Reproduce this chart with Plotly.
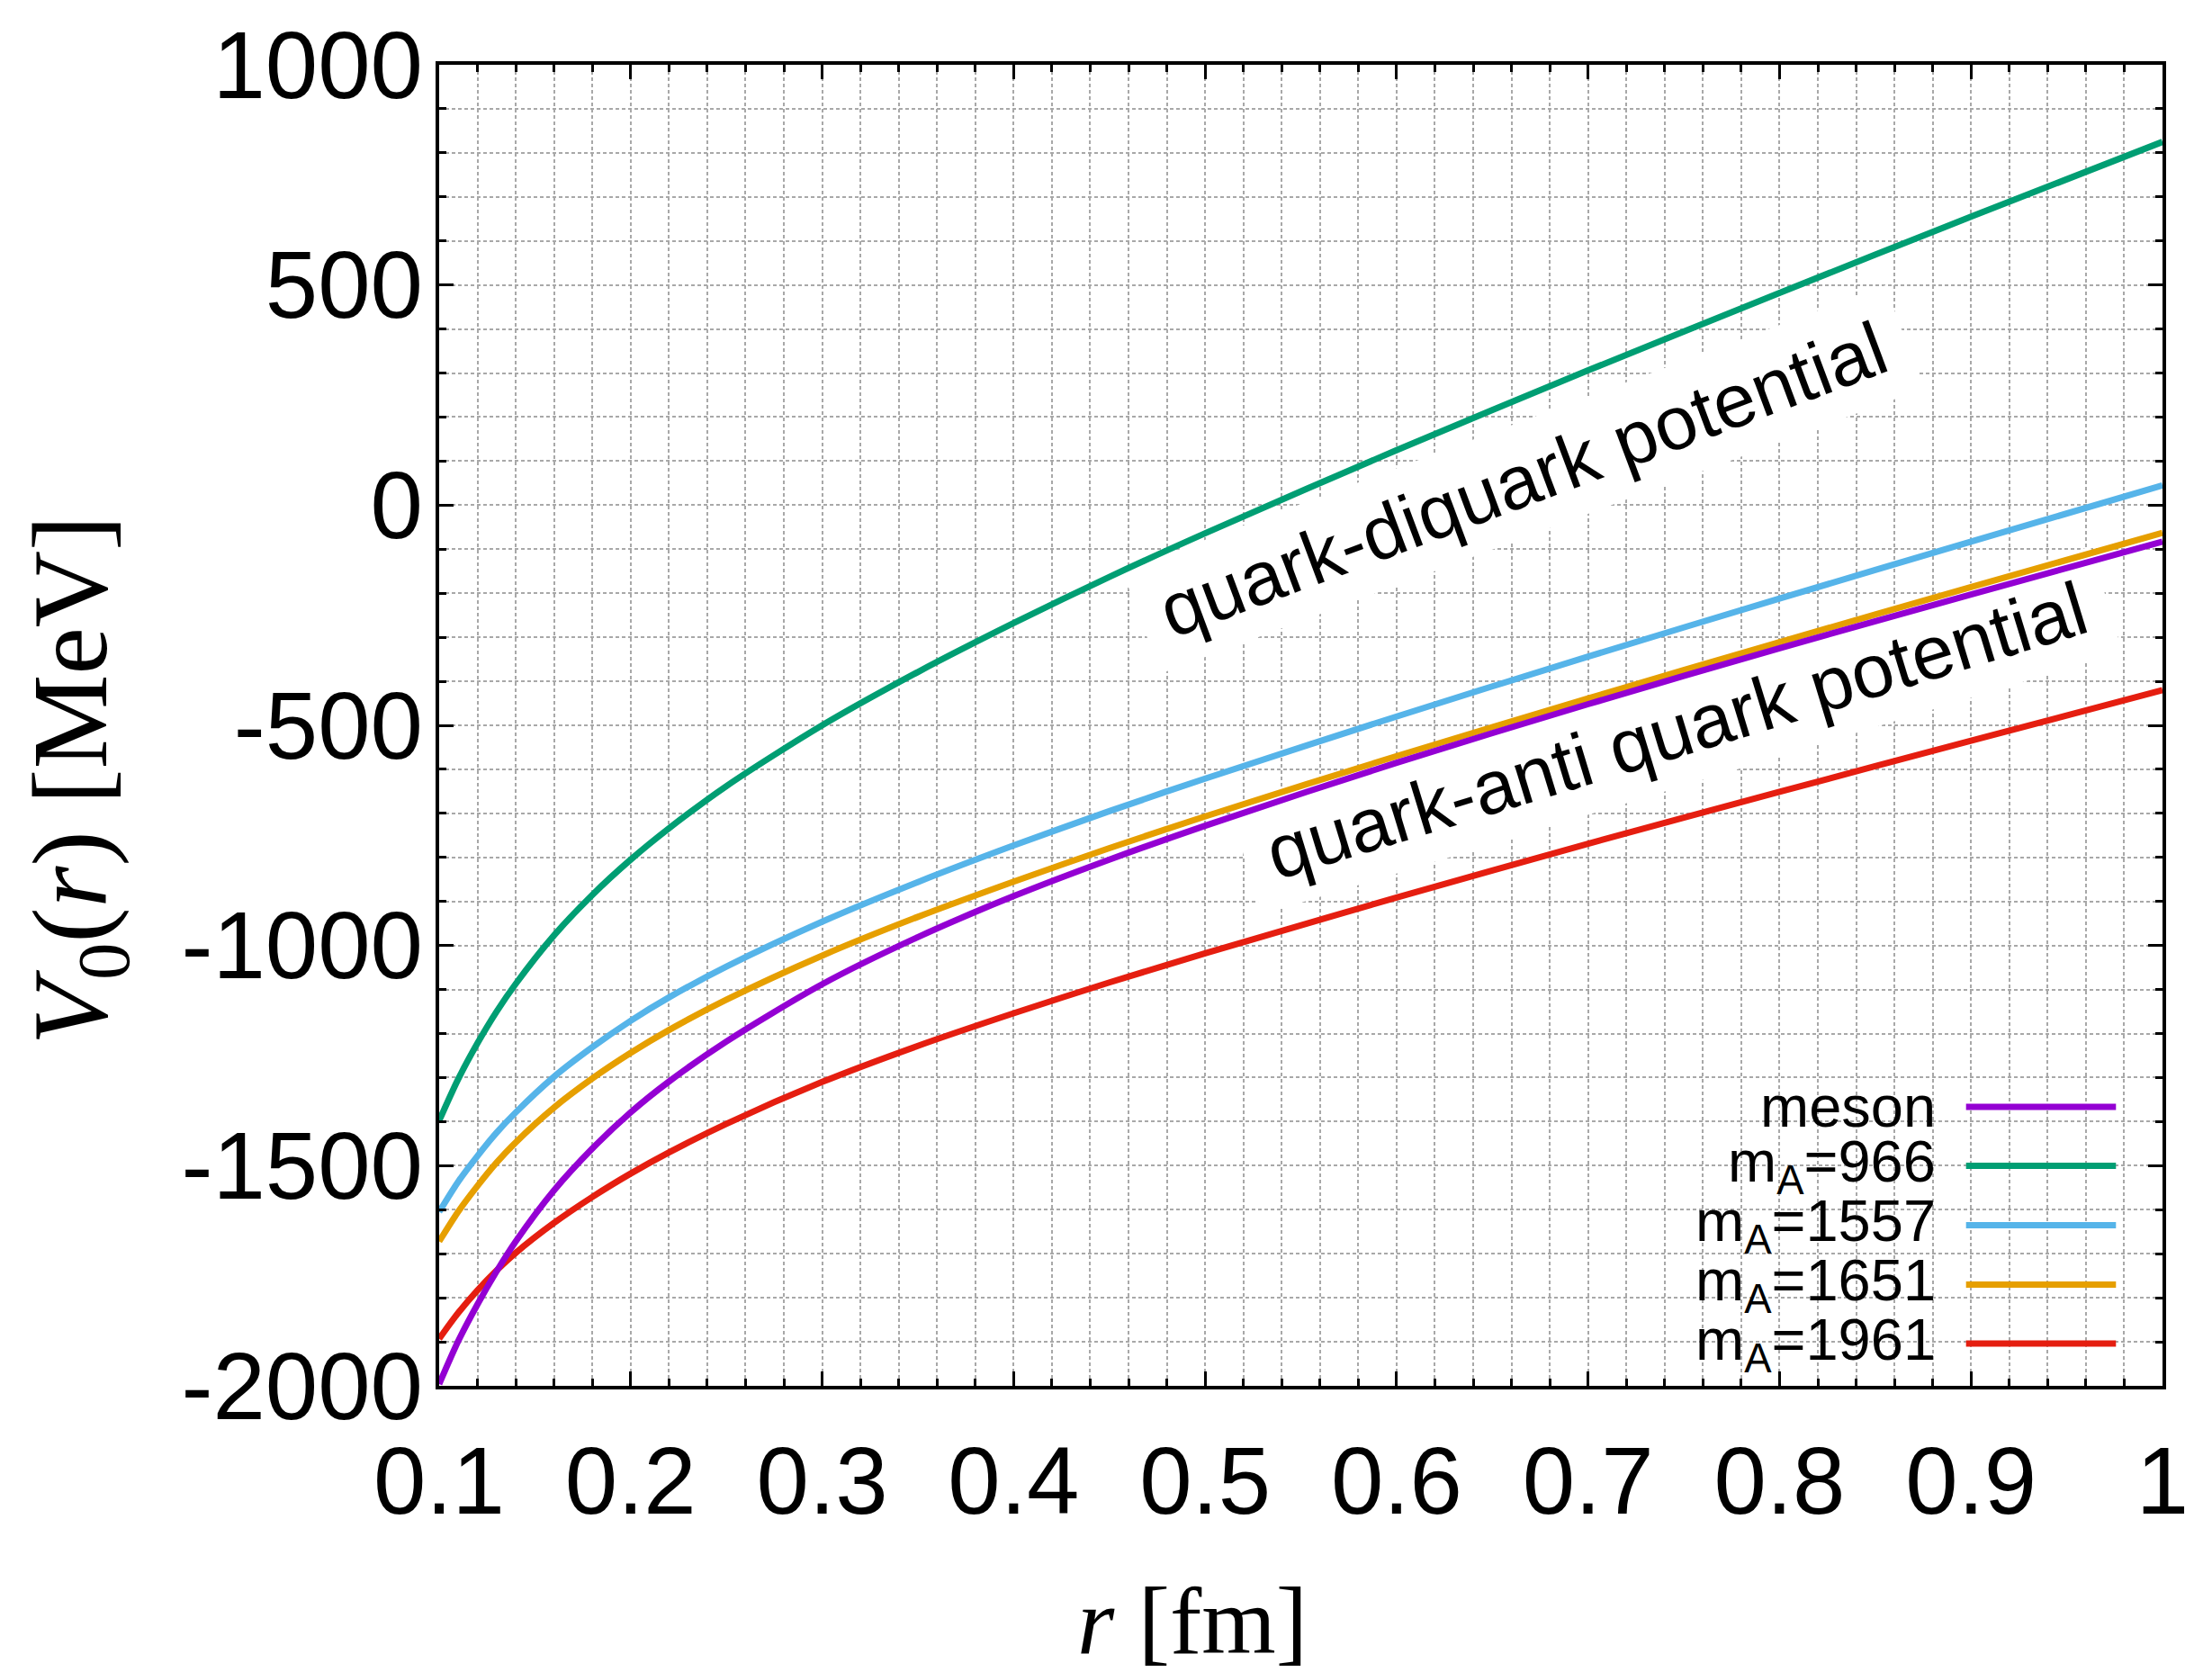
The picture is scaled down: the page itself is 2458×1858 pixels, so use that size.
import math
import plotly.graph_objects as go

# Separation r [fm]
r_fm = [0.10, 0.11, 0.12, 0.13, 0.14, 0.16, 0.18, 0.20, 0.22, 0.25,
        0.30, 0.35, 0.40, 0.45, 0.50, 0.60, 0.70, 0.80, 0.90, 1.00]

# V0(r) [MeV] for each case
v_meson = [-1996, -1898, -1815, -1740, -1672, -1556, -1461, -1379, -1309, -1218,
           -1088, -981, -888, -805, -728, -585, -452, -325, -203, -83]
v_m966 = [-1398, -1303, -1222, -1150, -1087, -977, -885, -805, -734, -638,
          -500, -379, -268, -163, -64, 125, 306, 482, 655, 825]
v_m1557 = [-1605, -1536, -1478, -1425, -1379, -1298, -1231, -1171, -1118, -1048,
           -946, -856, -773, -695, -621, -480, -344, -212, -83, 45]
v_m1651 = [-1672, -1604, -1546, -1493, -1447, -1368, -1302, -1244, -1192, -1123,
           -1023, -935, -855, -779, -707, -570, -439, -311, -186, -63]
v_m1961 = [-1893, -1834, -1783, -1738, -1698, -1630, -1571, -1518, -1470, -1405,
           -1310, -1228, -1154, -1084, -1018, -891, -769, -651, -535, -420]

series_names = ["meson", "m<sub>A</sub>=966", "m<sub>A</sub>=1557",
                "m<sub>A</sub>=1651", "m<sub>A</sub>=1961"]
series_values = [v_meson, v_m966, v_m1557, v_m1651, v_m1961]
series_colors = ["#9400d3", "#009e73", "#56b4e9", "#e69f00", "#e51e10"]

x_tick_vals = [0.1, 0.2, 0.3, 0.4, 0.5, 0.6, 0.7, 0.8, 0.9, 1.0]
x_tick_text = ["0.1", "0.2", "0.3", "0.4", "0.5", "0.6", "0.7", "0.8", "0.9", "1"]
y_tick_vals = [-2000, -1500, -1000, -500, 0, 500, 1000]
y_tick_text = ["-2000", "-1500", "-1000", "-500", "0", "500", "1000"]

# Curve labels: text, anchor (r, V), baseline angle, white box size in px
label_texts = ["quark-diquark potential", "quark-anti quark potential"]
label_r = [0.666, 0.746]
label_v = [58, -512]
label_angle = [20.5, 17.0]
label_box = [(905, 122), (1000, 122)]

SANS = "Liberation Sans, Arial, Helvetica, sans-serif"
SERIF = "Liberation Serif, Times New Roman, serif"
GRID = "#a8a8a8"

fig = go.Figure()

# Draw the curves in reverse so the meson curve sits on top
for name, vals, col in reversed(list(zip(series_names, series_values, series_colors))):
    fig.add_trace(go.Scatter(
        x=r_fm, y=vals, mode="lines", name=name,
        line=dict(color=col, width=7, shape="spline", smoothing=0.8),
        showlegend=False, hoverinfo="skip",
    ))

axis_common = dict(
    ticks="inside", tickwidth=3, tickcolor="black",
    showline=True, linewidth=4, linecolor="black", mirror="allticks",
    showgrid=True, gridcolor=GRID, gridwidth=2, griddash="4px,3px",
    zeroline=False, tickfont=dict(family=SANS, size=105, color="black"),
)

fig.update_xaxes(
    range=[0.1, 1.0], tickmode="array", tickvals=x_tick_vals, ticktext=x_tick_text,
    ticklen=16, ticklabelstandoff=12,
    minor=dict(tickmode="linear", tick0=0.1, dtick=0.02, ticks="inside", ticklen=8,
               tickwidth=3, tickcolor="black", showgrid=True, gridcolor=GRID,
               gridwidth=2, griddash="4px,3px"),
    **axis_common,
)
fig.update_yaxes(
    range=[-2000, 1000], tickmode="array", tickvals=y_tick_vals, ticktext=y_tick_text,
    ticklen=16, ticklabelstandoff=-7,
    minor=dict(tickmode="linear", tick0=-2000, dtick=100, ticks="inside", ticklen=8,
               tickwidth=3, tickcolor="black", showgrid=True, gridcolor=GRID,
               gridwidth=2, griddash="4px,3px"),
    **axis_common,
)

annotations = []
shapes = []

# Curve labels: a rotated white box between the grid and the curves, text on top
for txt, lr, lv, ang, (bw, bh) in zip(label_texts, label_r, label_v, label_angle, label_box):
    c, s = math.cos(math.radians(ang)), math.sin(math.radians(ang))
    corners = []
    for dx, dy in [(-bw / 2, -bh / 2), (bw / 2, -bh / 2), (bw / 2, bh / 2), (-bw / 2, bh / 2)]:
        corners.append((dx * c - dy * s, dx * s + dy * c))
    path = "M " + " L ".join(f"{px:.1f},{py:.1f}" for px, py in corners) + " Z"
    shapes.append(dict(
        type="path", path=path, xref="x", yref="y",
        xsizemode="pixel", ysizemode="pixel", xanchor=lr, yanchor=lv,
        fillcolor="white", line=dict(width=0), layer="between",
    ))
    annotations.append(dict(
        x=lr, y=lv, xref="x", yref="y", text=txt,
        showarrow=False, textangle=-ang,
        font=dict(family=SANS, size=84, color="black"),
        xanchor="center", yanchor="middle",
    ))

# Axis titles
annotations.append(dict(
    x=0.437, y=-0.178, xref="paper", yref="paper",
    text="<i>r</i> [fm]", showarrow=False,
    font=dict(family=SERIF, size=106, color="black"),
    xanchor="center", yanchor="middle",
))
annotations.append(dict(
    x=-0.2094, y=0.459, xref="paper", yref="paper",
    text="<i>V</i><sub>0</sub>(<i>r</i>) [MeV]", showarrow=False, textangle=-90,
    font=dict(family=SERIF, size=118, color="black"),
    xanchor="center", yanchor="middle",
))

# Key in the lower right corner: right-aligned text, line sample to the right
key_rows_y = [0.2112, 0.1665, 0.1216, 0.0767, 0.0320]
for name, col, ky in zip(series_names, series_colors, key_rows_y):
    annotations.append(dict(
        x=0.8695, y=ky, xref="paper", yref="paper", text=name, showarrow=False,
        font=dict(family=SANS, size=65, color="black"),
        xanchor="right", yanchor="middle",
    ))
    shapes.append(dict(
        type="line", xref="paper", yref="paper", x0=0.886, x1=0.973, y0=ky, y1=ky,
        line=dict(color=col, width=7),
    ))

fig.update_layout(
    width=2458, height=1858, autosize=False,
    margin=dict(l=488, r=55, t=72, b=318, pad=0),
    paper_bgcolor="white", plot_bgcolor="white",
    showlegend=False,
    annotations=annotations, shapes=shapes,
    font=dict(family=SANS, color="black"),
)

fig.write_html("out.html")
